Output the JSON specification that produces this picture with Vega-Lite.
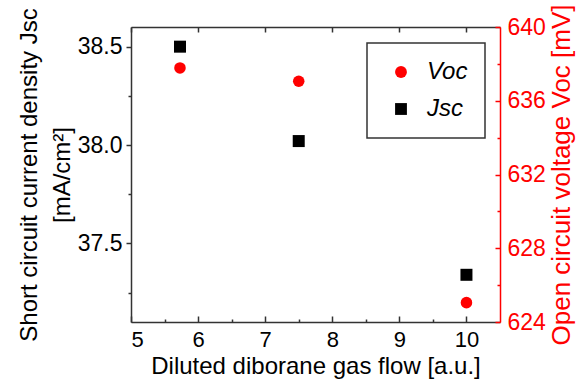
{
  "$schema": "https://vega.github.io/schema/vega-lite/v6.json",
  "width": 369,
  "height": 295,
  "autosize": "none",
  "padding": {"left": 131, "top": 27, "right": 77, "bottom": 60},
  "background": "white",
  "config": {
    "view": {"stroke": null},
    "font": "Liberation Sans",
    "axis": {
      "grid": false,
      "labelFont": "Liberation Sans",
      "titleFont": "Liberation Sans",
      "titleFontWeight": "normal",
      "domainColor": "#333333",
      "tickColor": "#333333",
      "labelColor": "#000000",
      "titleColor": "#000000",
      "domainWidth": 1.5,
      "tickWidth": 1.5
    },
    "legend": {
      "orient": "none",
      "legendX": 236,
      "legendY": 16,
      "title": null,
      "strokeColor": "#333333",
      "strokeWidth": 1.5,
      "padding": 17,
      "labelFont": "Liberation Sans",
      "labelFontSize": 24,
      "labelFontStyle": "italic",
      "labelOffset": 14,
      "symbolOffset": 5,
      "rowPadding": 13,
      "symbolSize": 140,
      "symbolStrokeWidth": 0
    }
  },
  "data": {
    "values": [
      {"flow": 5.73, "Jsc": 38.5, "Voc": 637.78},
      {"flow": 7.5, "Jsc": 38.02, "Voc": 637.06},
      {"flow": 10.0, "Jsc": 37.34, "Voc": 625.05}
    ]
  },
  "layer": [
    {
      "mark": {"type": "point", "filled": true, "size": 144, "opacity": 1},
      "encoding": {
        "x": {
          "field": "flow", "type": "quantitative",
          "scale": {"domain": [5, 10.5], "nice": false, "zero": false},
          "axis": {
            "orient": "bottom", "values": [5, 6, 7, 8, 9, 10], "format": "d",
            "tickSize": -6, "labelPadding": 13, "labelFontSize": 22,
            "title": "Diluted diborane gas flow [a.u.]", "titleFontSize": 24, "titlePadding": 4
          }
        },
        "y": {
          "field": "Jsc", "type": "quantitative",
          "scale": {"domain": [37.1, 38.6], "nice": false, "zero": false},
          "axis": {
            "orient": "left", "values": [37.5, 38, 38.5], "format": ".1f",
            "tickSize": 5, "labelPadding": 4, "labelFontSize": 23,
            "title": ["Short circuit current density Jsc", "[mA/cm²]"],
            "titleFontSize": 24, "titleLineHeight": 33, "titlePadding": 3
          }
        },
        "color": {
          "datum": "Jsc", "type": "nominal",
          "scale": {"domain": ["Voc", "Jsc"], "range": ["#ff0000", "#000000"]}
        },
        "shape": {
          "datum": "Jsc", "type": "nominal",
          "scale": {"domain": ["Voc", "Jsc"], "range": ["circle", "square"]}
        }
      }
    },
    {
      "mark": {"type": "point", "filled": true, "size": 133, "opacity": 1},
      "encoding": {
        "x": {
          "field": "flow", "type": "quantitative",
          "scale": {"domain": [5, 10.5], "nice": false, "zero": false},
          "axis": null
        },
        "y": {
          "field": "Voc", "type": "quantitative",
          "scale": {"domain": [624, 640], "nice": false, "zero": false},
          "axis": {
            "orient": "right", "values": [624, 628, 632, 636, 640], "format": "d",
            "tickSize": -5, "labelPadding": 12, "labelFontSize": 23,
            "domainColor": "#ff0000", "tickColor": "#ff0000", "labelColor": "#ff0000",
            "title": "Open circuit voltage Voc [mV]", "titleColor": "#ff0000",
            "titleFontSize": 26, "titleAngle": 270, "titleBaseline": "top", "titlePadding": 3
          }
        },
        "color": {"datum": "Voc", "type": "nominal"},
        "shape": {"datum": "Voc", "type": "nominal"}
      }
    },
    {
      "mark": {"type": "point", "opacity": 0},
      "encoding": {
        "x": {
          "field": "flow", "type": "quantitative",
          "scale": {"domain": [5, 10.5], "nice": false, "zero": false},
          "axis": {
            "orient": "bottom", "values": [5.5, 6.5, 7.5, 8.5, 9.5],
            "tickSize": -3, "labels": false, "domain": false, "title": null
          }
        },
        "y": {
          "field": "Jsc", "type": "quantitative",
          "scale": {"domain": [37.1, 38.6], "nice": false, "zero": false},
          "axis": {
            "orient": "left", "values": [37.25, 37.75, 38.25],
            "tickSize": 3, "labels": false, "domain": false, "title": null
          }
        }
      }
    },
    {
      "mark": {"type": "point", "opacity": 0},
      "encoding": {
        "x": {
          "field": "flow", "type": "quantitative",
          "scale": {"domain": [5, 10.5], "nice": false, "zero": false},
          "axis": {
            "orient": "top", "values": [5, 6, 7, 8, 9, 10],
            "tickSize": -5, "labels": false, "title": null
          }
        },
        "y": {
          "field": "Voc", "type": "quantitative",
          "scale": {"domain": [624, 640], "nice": false, "zero": false},
          "axis": {
            "orient": "right", "values": [626, 630, 634, 638],
            "tickSize": -3, "labels": false, "domain": false, "title": null,
            "tickColor": "#ff0000"
          }
        }
      }
    }
  ],
  "resolve": {
    "scale": {"y": "independent"},
    "axis": {"x": "independent", "y": "independent"}
  }
}
